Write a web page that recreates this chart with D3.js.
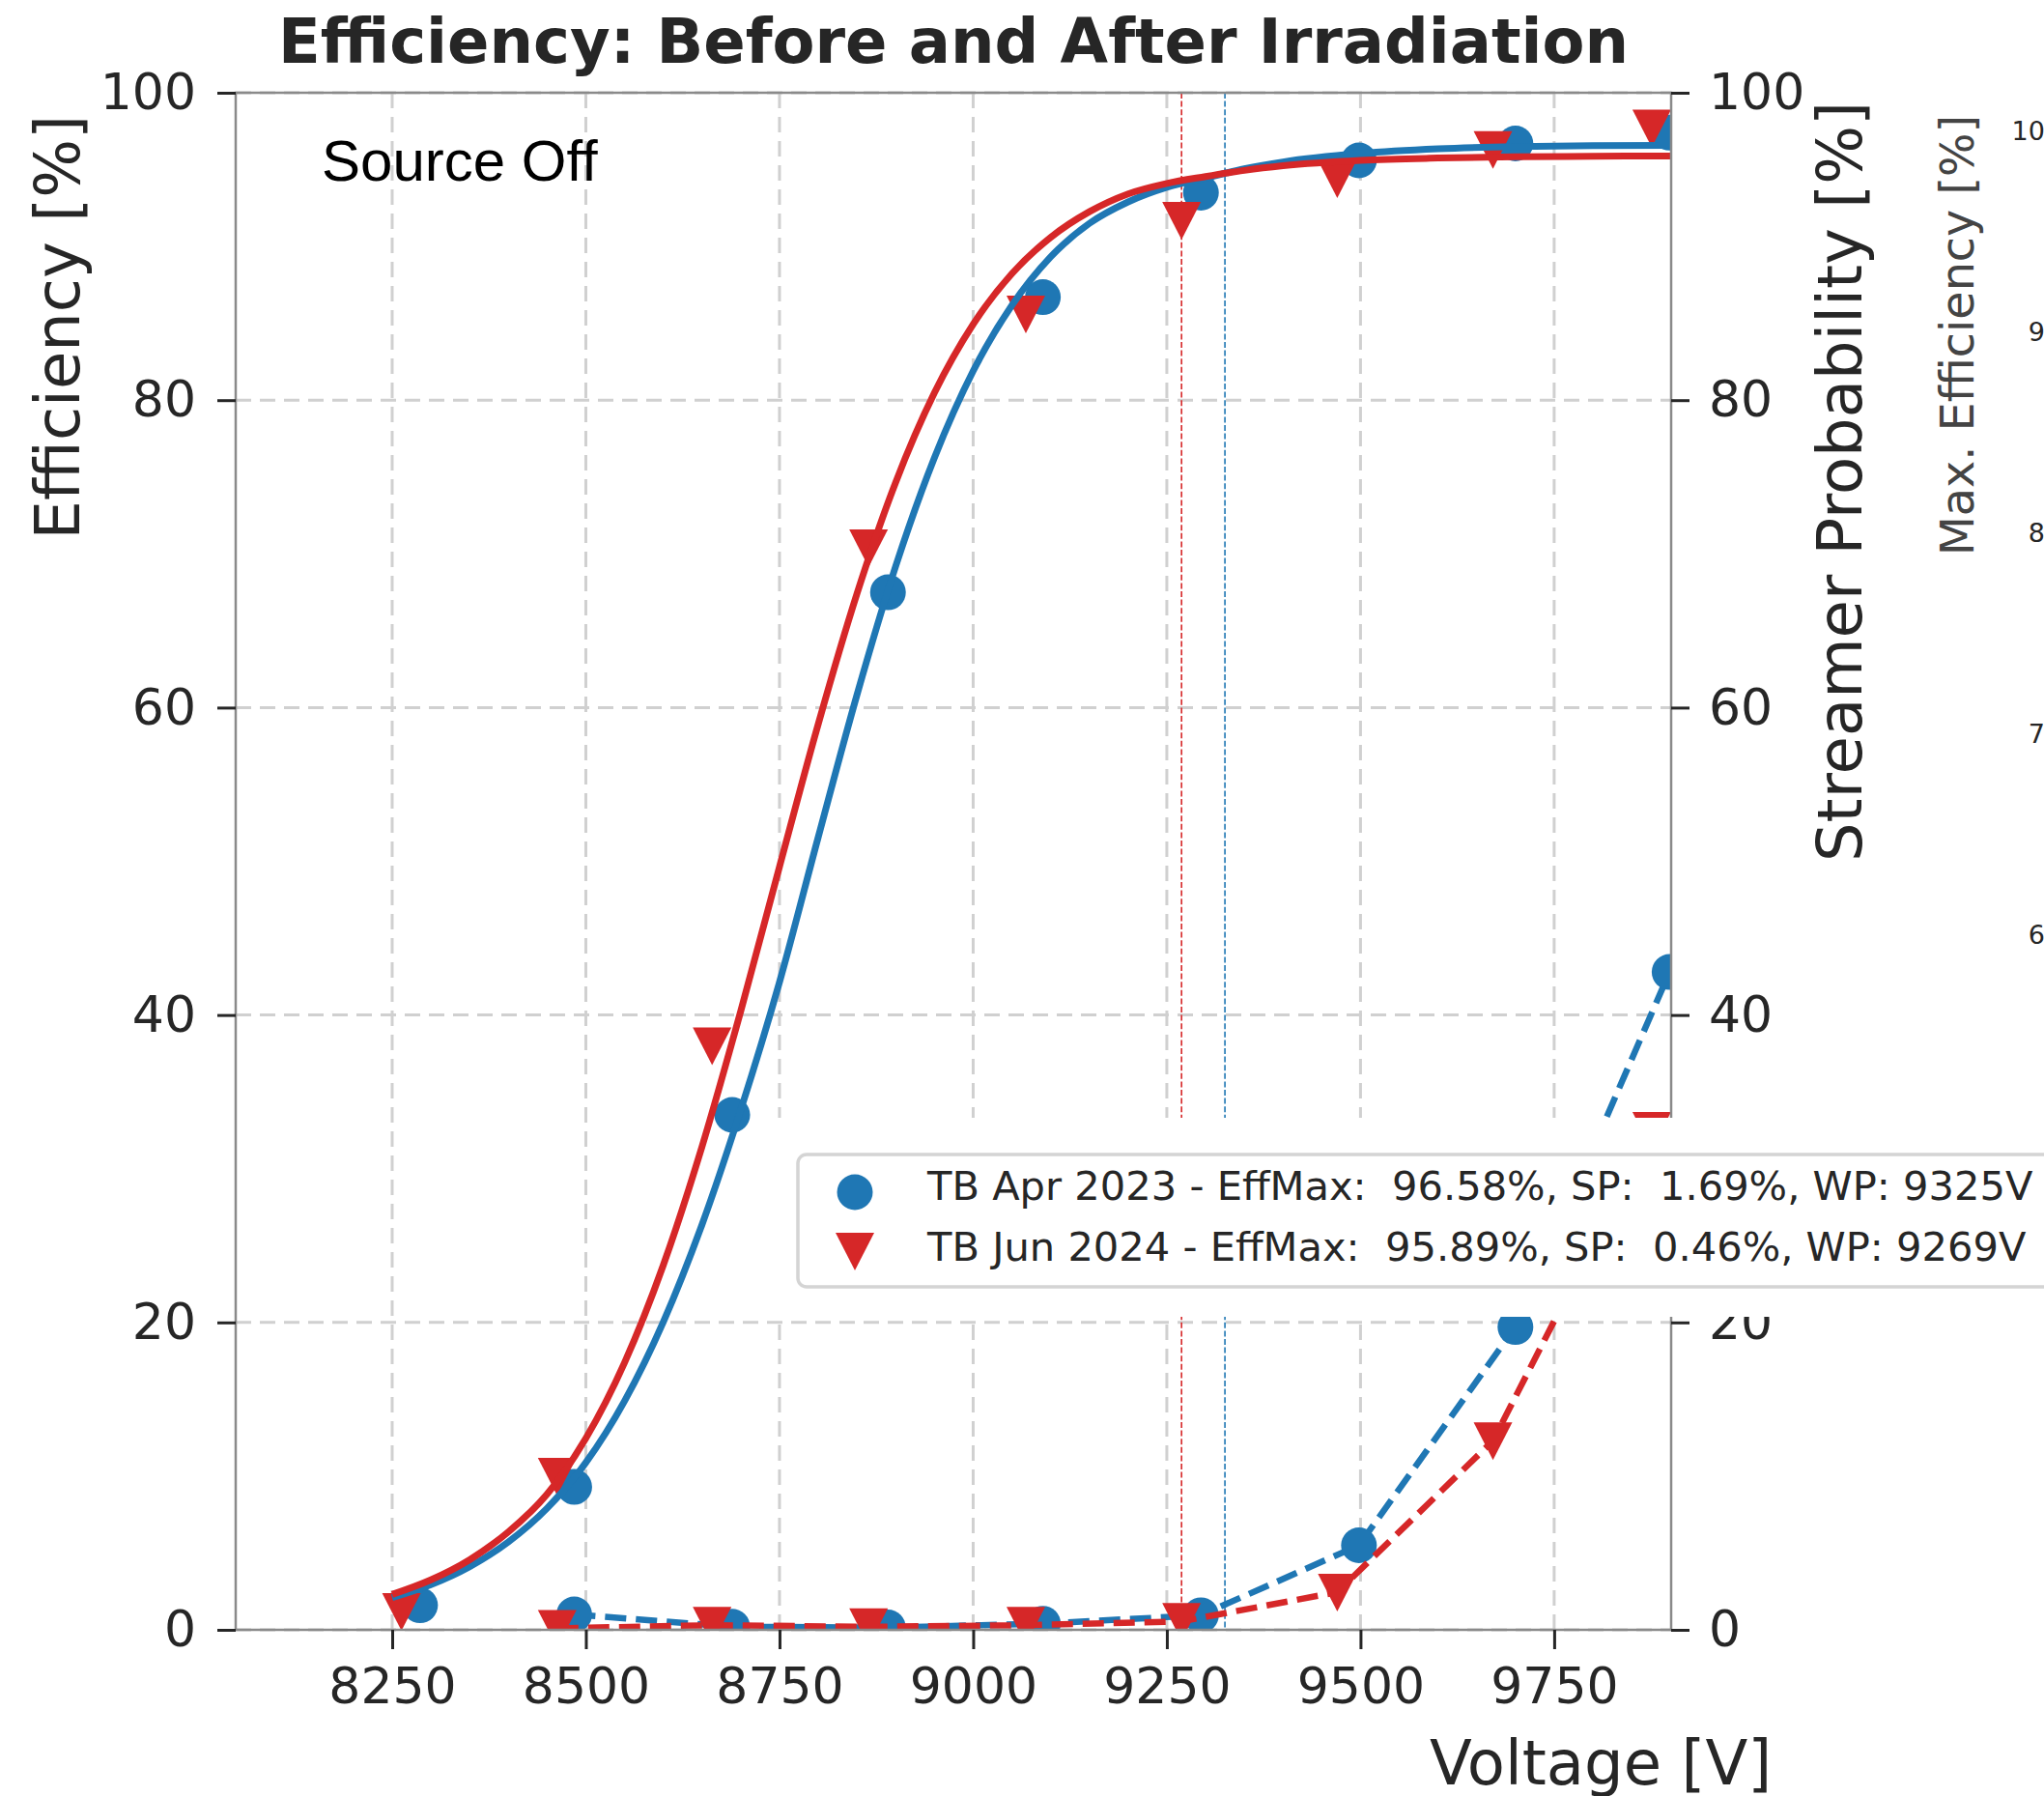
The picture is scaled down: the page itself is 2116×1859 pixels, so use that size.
<!DOCTYPE html>
<html>
<head>
<meta charset="utf-8">
<script src="https://cdn.jsdelivr.net/npm/d3@7"></script>
<style>
body { margin: 0; background: #fff; }
text { font-family: "DejaVu Sans", sans-serif; fill: #262626; }
</style>
</head>
<body>
<div id="chart"></div>
<script>
// tick values
var xTicks = [8250, 8500, 8750, 9000, 9250, 9500, 9750];
var yTicks = [0, 20, 40, 60, 80, 100];
var maxEffTicks = [60, 70, 80, 90, 100];

// TB Apr 2023 (blue) - measured points
var voltApr = [8286, 8485, 8689, 8890, 9090, 9294, 9498, 9700, 9899];
var effApr = [1.6, 9.3, 33.5, 67.5, 86.7, 93.5, 95.6, 96.7, 97.4];
var spApr = [null, 1.0, 0.2, 0.15, 0.4, 0.95, 5.5, 19.7, 42.8];

// TB Jun 2024 (red) - measured points
var voltJun = [8262, 8463, 8663, 8865, 9068, 9269, 9470, 9671, 9876];
var effJun = [1.2, 10.0, 38.0, 70.4, 85.6, 91.7, 94.4, 96.3, 97.7];
var spJun = [null, 0.1, 0.3, 0.2, 0.3, 0.55, 2.45, 12.3, 32.5];

// fitted efficiency curves
var fitVolt = [8250, 8300, 8350, 8400, 8450, 8500, 8550, 8600, 8650, 8700, 8750, 8800, 8850, 8900, 8950,
	9000, 9050, 9100, 9150, 9200, 9250, 9300, 9350, 9400, 9500, 9600, 9700, 9800, 9900];
var fitApr = [2.1, 2.94, 4.11, 5.72, 7.91, 10.88, 14.89, 20.03, 26.37, 33.83, 42.14, 51.57, 60.83, 69.2, 76.26,
	81.9, 86.17, 89.32, 91.5, 92.9, 93.85, 94.45, 95.05, 95.5, 96.05, 96.35, 96.5, 96.56, 96.58];
var fitJun = [2.3, 3.25, 4.56, 6.37, 8.83, 12.46, 17.39, 23.73, 31.44, 40.26, 49.65, 58.93, 67.41, 74.66, 80.48,
	84.94, 88.23, 90.59, 92.26, 93.42, 94.1, 94.55, 94.95, 95.25, 95.6, 95.75, 95.83, 95.87, 95.89];

// working points
var wpApr = 9325, wpJun = 9269;

var legendRows = [
	"TB Apr 2023 - EffMax:  96.58%, SP:  1.69%, WP: 9325V",
	"TB Jun 2024 - EffMax:  95.89%, SP:  0.46%, WP: 9269V"
];

var blue = "#1f77b4", red = "#d62728";

var w = 2116,
	h = 1859;
var padL = 244, padR = 1730, padT = 96, padB = 1687;

var x = d3.scaleLinear().domain([8048, 9901]).range([padL, padR]);
var y = d3.scaleLinear().domain([0, 100]).range([padB, padT]);
var yMax = d3.scaleLinear().domain([60, 100]).range([968, 136]);

var root = d3.select("#chart").append("svg").attr("width", w).attr("height", h);

root.append("defs").append("clipPath").attr("id", "plotclip")
	.append("rect").attr("x", padL).attr("y", padT).attr("width", padR - padL).attr("height", padB - padT);

// grid
var grid = root.append("g");
grid.selectAll(".gx").data(xTicks).enter().append("line")
	.attr("x1", function(d) { return x(d); }).attr("x2", function(d) { return x(d); })
	.attr("y1", padT).attr("y2", padB)
	.attr("stroke", "#d0d0d0").attr("stroke-width", 3).attr("stroke-dasharray", "16,9");
grid.selectAll(".gy").data(yTicks).enter().append("line")
	.attr("x1", padL).attr("x2", padR)
	.attr("y1", function(d) { return y(d); }).attr("y2", function(d) { return y(d); })
	.attr("stroke", "#d0d0d0").attr("stroke-width", 3).attr("stroke-dasharray", "16,9");

var plot = root.append("g").attr("clip-path", "url(#plotclip)");

// working point lines
plot.selectAll(".wp").data([[wpJun, red], [wpApr, blue]]).enter().append("line")
	.attr("x1", function(d) { return x(d[0]); }).attr("x2", function(d) { return x(d[0]); })
	.attr("y1", padT).attr("y2", padB)
	.attr("stroke", function(d) { return d[1]; }).attr("stroke-width", 1.6).attr("stroke-dasharray", "6,2.6");

var tri = "M0,20L-20,-19L20,-19Z";

function drawMarkers(layer, xs, ys, color, shape) {
	var pts = xs.map(function(v, i) { return [v, ys[i]]; }).filter(function(p) { return p[1] !== null; });
	if (shape === "circle") {
		layer.selectAll(null).data(pts).enter().append("circle")
			.attr("cx", function(d) { return x(d[0]); }).attr("cy", function(d) { return y(d[1]); })
			.attr("r", 18.5).attr("fill", color);
	} else {
		layer.selectAll(null).data(pts).enter().append("path")
			.attr("d", tri)
			.attr("transform", function(d) { return "translate(" + x(d[0]) + "," + y(d[1]) + ")"; })
			.attr("fill", color);
	}
}

function drawLine(layer, xs, ys, color, dashed) {
	var line = d3.line()
		.defined(function(d) { return d[1] !== null; })
		.x(function(d) { return x(d[0]); })
		.y(function(d) { return y(d[1]); });
	if (!dashed) line.curve(d3.curveMonotoneX);
	layer.append("path")
		.datum(xs.map(function(v, i) { return [v, ys[i]]; }))
		.attr("d", line)
		.attr("fill", "none").attr("stroke", color).attr("stroke-width", dashed ? 6.5 : 7)
		.attr("stroke-dasharray", dashed ? "22,10" : null);
}

// efficiency points and fits
drawMarkers(plot, voltApr, effApr, blue, "circle");
drawMarkers(plot, voltJun, effJun, red, "tri");
drawLine(plot, fitVolt, fitApr, blue, false);
drawLine(plot, fitVolt, fitJun, red, false);

// streamer probability
drawLine(plot, voltApr, spApr, blue, true);
drawMarkers(plot, voltApr, spApr, blue, "circle");
drawLine(plot, voltJun, spJun, red, true);
drawMarkers(plot, voltJun, spJun, red, "tri");

// spines
root.append("rect").attr("x", padL).attr("y", padT).attr("width", padR - padL).attr("height", padB - padT)
	.attr("fill", "none").attr("stroke", "#8a8a8a").attr("stroke-width", 2.5);

// axes
function styleAxis(g, size) {
	g.select(".domain").remove();
	g.selectAll(".tick line").attr("stroke", "#262626").attr("stroke-width", 3);
	g.selectAll(".tick text").attr("font-family", "DejaVu Sans").attr("font-size", size).attr("fill", "#262626");
}

var xAxis = root.append("g").attr("transform", "translate(0," + padB + ")")
	.call(d3.axisBottom(x).tickValues(xTicks).tickSize(20).tickPadding(19).tickFormat(d3.format("d")));
styleAxis(xAxis, 52);

var yAxis = root.append("g").attr("transform", "translate(" + padL + ",0)")
	.call(d3.axisLeft(y).tickValues(yTicks).tickSize(19).tickPadding(22));
styleAxis(yAxis, 52);

var y2Axis = root.append("g").attr("transform", "translate(" + padR + ",0)")
	.call(d3.axisRight(y).tickValues(yTicks).tickSize(19).tickPadding(20));
styleAxis(y2Axis, 52);

// partial third axis at the right edge
var y3Axis = root.append("g").attr("transform", "translate(2134,0)")
	.call(d3.axisLeft(yMax).tickValues(maxEffTicks).tickSize(0).tickPadding(0));
styleAxis(y3Axis, 27);
y3Axis.selectAll(".tick text").attr("fill", "#555");

// titles and labels
root.append("text").attr("x", (padL + padR) / 2).attr("y", 65).attr("text-anchor", "middle")
	.attr("font-size", 64).attr("font-weight", "bold").text("Efficiency: Before and After Irradiation");

root.append("text").attr("x", 1480).attr("y", 1847).attr("font-size", 64).text("Voltage [V]");

root.append("text").attr("transform", "translate(82,119) rotate(-90)").attr("text-anchor", "end")
	.attr("font-size", 64).text("Efficiency [%]");

root.append("text").attr("transform", "translate(1927,105) rotate(-90)").attr("text-anchor", "end")
	.attr("font-size", 64).text("Streamer Probability [%]");

root.append("text").attr("transform", "translate(2043,119) rotate(-90)").attr("text-anchor", "end")
	.attr("font-size", 47.7).style("fill", "#444").text("Max. Efficiency [%]");

root.append("text").attr("x", 333).attr("y", 187)
	.style("font-family", "'Liberation Sans', Arial, sans-serif").style("fill", "#000")
	.attr("font-size", 60).text("Source Off");

// white patch with the legend
root.append("rect").attr("x", 785).attr("y", 1157).attr("width", w - 785).attr("height", 206).attr("fill", "#fff");

var legend = root.append("g");
legend.append("rect").attr("x", 826).attr("y", 1195).attr("width", 1400).attr("height", 137)
	.attr("rx", 9).attr("fill", "#fff").attr("stroke", "#d4d4d4").attr("stroke-width", 3.5);
legend.append("circle").attr("cx", 885).attr("cy", 1234).attr("r", 18.5).attr("fill", blue);
legend.append("path").attr("d", tri).attr("transform", "translate(885,1295)").attr("fill", red);
legend.selectAll(".lt").data(legendRows).enter().append("text")
	.attr("x", 960).attr("y", function(d, i) { return 1242 + i * 63; })
	.attr("font-size", 41.6).style("white-space", "pre")
	.text(function(d) { return d; });
</script>
</body>
</html>
